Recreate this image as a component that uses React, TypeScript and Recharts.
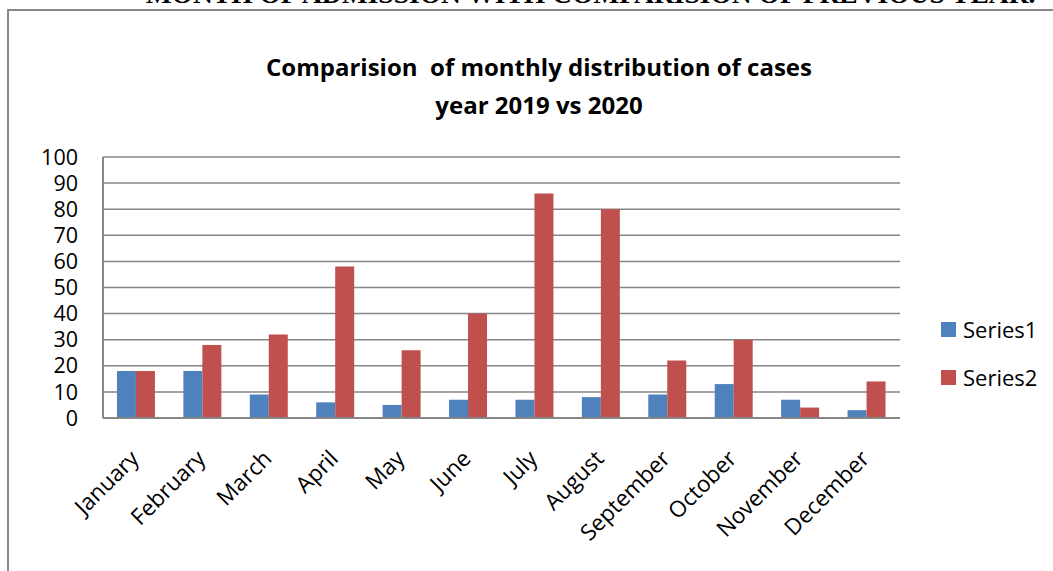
import { BarChart, Bar, XAxis, YAxis, CartesianGrid, Legend } from "recharts";

// months shown on the x axis
const months = [
  "January", "February", "March", "April", "May", "June",
  "July", "August", "September", "October", "November", "December",
];
// year 2019
const series1 = [18, 18, 9, 6, 5, 7, 7, 8, 9, 13, 7, 3];
// year 2020
const series2 = [18, 28, 32, 58, 26, 40, 86, 80, 22, 30, 4, 14];
const yTicks = [0, 10, 20, 30, 40, 50, 60, 70, 80, 90, 100];

const BLUE = "#4F81BD";
const RED = "#C0504D";
const GRID = "#868686";
const FONT = "'Open Sans', sans-serif";

const data = months.map((m, i) => ({ month: m, Series1: series1[i], Series2: series2[i] }));

const MonthTick = (props: any) => {
  const { x, y, payload } = props;
  const tx = x + 4;
  const ty = y + 42;
  return (
    <text
      x={tx}
      y={ty}
      transform={`rotate(-45 ${tx} ${ty})`}
      textAnchor="end"
      fontSize={22.5}
      fontFamily={FONT}
      fill="#000"
    >
      {payload.value}
    </text>
  );
};

const LegendBox = () => (
  <div style={{ fontFamily: FONT, fontSize: 22, color: "#000" }}>
    {[
      { name: "Series1", color: BLUE },
      { name: "Series2", color: RED },
    ].map((it) => (
      <div key={it.name} style={{ display: "flex", alignItems: "center", height: 48 }}>
        <span style={{ width: 15, height: 15, background: it.color, marginRight: 7, display: "inline-block" }} />
        <span>{it.name}</span>
      </div>
    ))}
  </div>
);

export default function App() {
  return (
    <div style={{ position: "absolute", left: 0, top: 0, width: 1053, height: 571, overflow: "hidden", background: "#fff" }}>
      {/* heading of the document, cut off by the crop */}
      <div
        style={{
          position: "absolute",
          left: 104,
          top: -22,
          fontFamily: "'Liberation Serif', serif",
          fontWeight: "bold",
          fontSize: 27.5,
          whiteSpace: "nowrap",
          color: "#000",
        }}
      >
        <span style={{ marginRight: 32 }}>•</span>
        MONTH OF ADMISSION WITH COMPARISION OF PREVIOUS YEAR.
      </div>
      {/* chart frame */}
      <div
        style={{
          position: "absolute",
          left: 7,
          top: 9,
          width: 1100,
          height: 600,
          border: "2px solid #888",
        }}
      />
      <div
        style={{
          position: "absolute",
          left: 0,
          top: 48,
          width: 1078,
          textAlign: "center",
          fontFamily: FONT,
          fontWeight: "bold",
          fontSize: 24,
          lineHeight: "38px",
          color: "#000",
        }}
      >
        <div style={{ whiteSpace: "pre" }}>Comparision  of monthly distribution of cases</div>
        <div>year 2019 vs 2020</div>
      </div>
      <div style={{ position: "absolute", left: 0, top: 0 }}>
        <BarChart
          width={1053}
          height={571}
          data={data}
          margin={{ top: 157, right: 153, left: 43, bottom: 33 }}
          barCategoryGap="21%"
          barGap={0}
        >
          <CartesianGrid vertical={false} stroke={GRID} strokeWidth={1.5} />
          <XAxis
            dataKey="month"
            height={120}
            tickLine={false}
            tickSize={0}
            tickMargin={0}
            axisLine={{ stroke: GRID, strokeWidth: 2 }}
            tick={<MonthTick />}
            interval={0}
          />
          <YAxis
            width={60}
            domain={[0, 100]}
            ticks={yTicks}
            interval={0}
            tickLine={false}
            tickSize={0}
            tickMargin={25}
            axisLine={{ stroke: GRID, strokeWidth: 2 }}
            tick={{ fontSize: 21.5, fontFamily: FONT, fill: "#000" }}
          />
          <Legend
            layout="vertical"
            align="center"
            verticalAlign="middle"
            content={<LegendBox />}
            wrapperStyle={{ left: 941, top: 305, width: 110 }}
          />
          <Bar dataKey="Series1" fill={BLUE} isAnimationActive={false} />
          <Bar dataKey="Series2" fill={RED} isAnimationActive={false} />
        </BarChart>
      </div>
    </div>
  );
}
